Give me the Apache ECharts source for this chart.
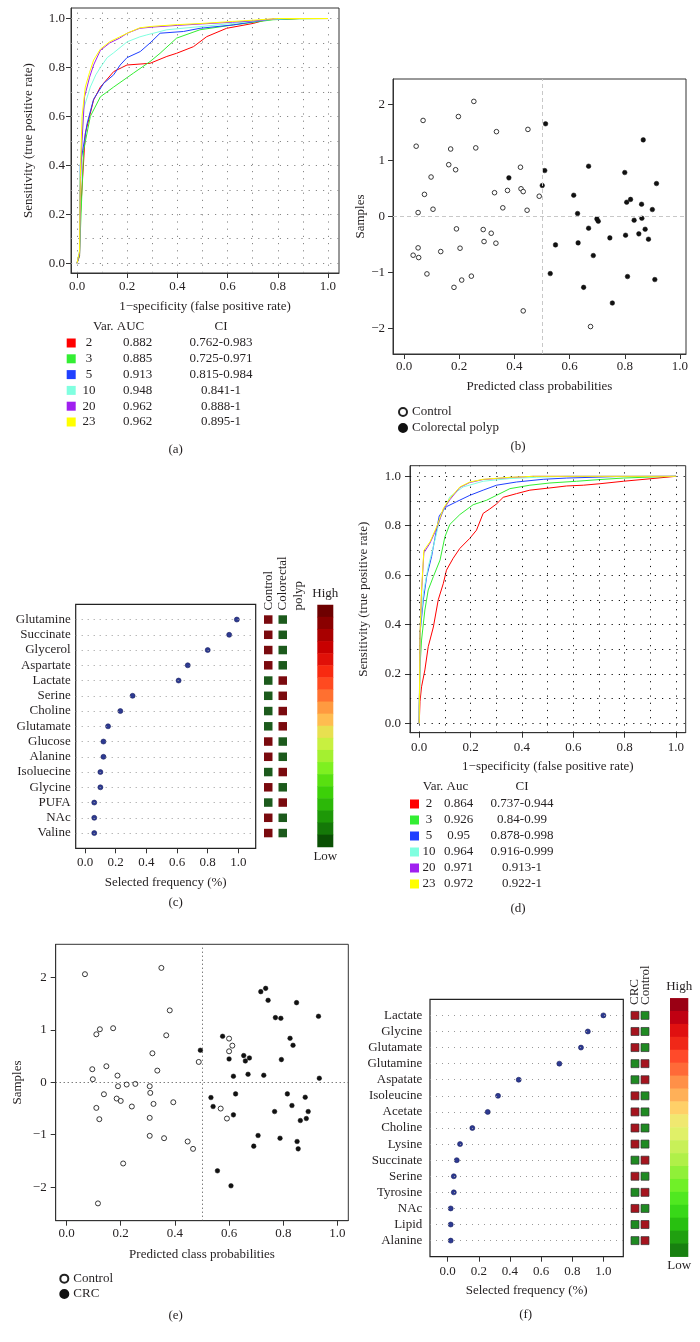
<!DOCTYPE html>
<html><head><meta charset="utf-8">
<script src="https://cdn.jsdelivr.net/npm/echarts@6/dist/echarts.min.js"></script>
<style>html,body{margin:0;padding:0;background:#fff}#c{width:700px;height:1342px}</style>
</head><body><div id="c"></div>
<script>
// ---------------- DATA ----------------
const rocVars = ['2', '3', '5', '10', '20', '23'];
const rocColors = ['#ff0000', '#33ee33', '#2040ff', '#80ffe0', '#a020f0', '#ffff00'];
const aAuc = ['0.882', '0.885', '0.913', '0.948', '0.962', '0.962'];
const aCI = ['0.762-0.983', '0.725-0.971', '0.815-0.984', '0.841-1', '0.888-1', '0.895-1'];
const dAuc = ['0.864', '0.926', '0.95', '0.964', '0.971', '0.972'];
const dCI = ['0.737-0.944', '0.84-0.99', '0.878-0.998', '0.916-0.999', '0.913-1', '0.922-1'];

// ROC curves panel (a)  [FPR, TPR]
const a2 = [[0,0],[0.01,0.03],[0.013,0.19],[0.033,0.53],[0.066,0.667],[0.093,0.72],[0.146,0.783],[0.199,0.81],[0.291,0.817],[0.358,0.845],[0.397,0.858],[0.464,0.885],[0.517,0.926],[0.596,0.96],[0.702,0.98],[0.755,0.995],[0.887,1],[1,1]];
const a3 = [[0,0],[0.01,0.03],[0.013,0.12],[0.026,0.46],[0.053,0.6],[0.093,0.68],[0.146,0.72],[0.225,0.777],[0.291,0.824],[0.331,0.858],[0.397,0.92],[0.49,0.954],[0.623,0.974],[0.781,0.995],[0.887,0.999],[1,1]];
const a5 = [[0,0],[0.01,0.04],[0.013,0.4],[0.04,0.57],[0.066,0.67],[0.106,0.735],[0.146,0.77],[0.172,0.81],[0.199,0.84],[0.252,0.865],[0.291,0.9],[0.331,0.94],[0.424,0.947],[0.49,0.96],[0.623,0.974],[0.755,0.995],[0.85,1],[1,1]];
const a10 = [[0,0],[0.01,0.05],[0.013,0.4],[0.026,0.63],[0.053,0.72],[0.075,0.77],[0.093,0.8],[0.12,0.84],[0.146,0.86],[0.2,0.905],[0.25,0.925],[0.278,0.933],[0.358,0.954],[0.49,0.967],[0.62,0.98],[0.755,0.995],[0.85,1],[1,1]];
const a20 = [[0,0],[0.01,0.04],[0.013,0.3],[0.02,0.5],[0.03,0.68],[0.05,0.76],[0.066,0.81],[0.093,0.87],[0.13,0.9],[0.17,0.92],[0.2,0.94],[0.25,0.96],[0.3,0.965],[0.4,0.972],[0.5,0.978],[0.62,0.985],[0.7,0.99],[0.8,1],[1,1]];
const a23 = [[0,0],[0.01,0.05],[0.013,0.35],[0.02,0.6],[0.033,0.72],[0.05,0.78],[0.066,0.83],[0.093,0.875],[0.13,0.905],[0.17,0.925],[0.2,0.94],[0.25,0.962],[0.3,0.968],[0.4,0.975],[0.5,0.98],[0.62,0.988],[0.7,0.993],[0.755,0.997],[0.8,1],[1,1]];

// ROC curves panel (d)
const d2 = [[0,0],[0.003,0.088],[0.009,0.148],[0.022,0.216],[0.035,0.31],[0.055,0.39],[0.074,0.5],[0.094,0.567],[0.106,0.62],[0.132,0.668],[0.158,0.708],[0.197,0.749],[0.223,0.782],[0.249,0.85],[0.275,0.868],[0.301,0.888],[0.327,0.915],[0.379,0.93],[0.431,0.944],[0.509,0.953],[0.574,0.961],[0.639,0.964],[0.704,0.97],[0.795,0.98],[0.899,0.99],[1,1]];
const d3 = [[0,0],[0,0.067],[0.003,0.23],[0.009,0.337],[0.022,0.459],[0.035,0.54],[0.055,0.594],[0.081,0.661],[0.1,0.755],[0.119,0.805],[0.158,0.845],[0.21,0.885],[0.262,0.903],[0.301,0.923],[0.353,0.95],[0.431,0.964],[0.509,0.973],[0.613,0.98],[0.704,0.987],[0.795,0.993],[0.899,0.997],[1,1]];
const d5 = [[0,0],[0,0.04],[0.003,0.364],[0.016,0.5],[0.029,0.594],[0.048,0.675],[0.061,0.749],[0.078,0.84],[0.106,0.877],[0.145,0.897],[0.197,0.923],[0.249,0.944],[0.301,0.964],[0.379,0.977],[0.483,0.988],[0.574,0.993],[0.769,0.999],[1,1]];
const d10 = [[0,0],[0.003,0.2],[0.005,0.4],[0.016,0.526],[0.035,0.634],[0.055,0.715],[0.081,0.83],[0.119,0.917],[0.171,0.957],[0.249,0.98],[0.353,0.991],[0.457,0.996],[0.574,1],[1,1]];
const d20 = [[0,0],[0.003,0.35],[0.009,0.53],[0.018,0.69],[0.042,0.73],[0.068,0.79],[0.094,0.865],[0.119,0.905],[0.158,0.955],[0.197,0.975],[0.249,0.987],[0.353,0.995],[0.444,1],[1,1]];
const d23 = [[0,0],[0.003,0.364],[0.009,0.54],[0.018,0.7],[0.042,0.735],[0.068,0.796],[0.094,0.87],[0.119,0.91],[0.158,0.957],[0.197,0.977],[0.249,0.988],[0.353,0.996],[0.444,1],[1,1]];

// Panel (b) predicted class probabilities vs samples
const bControl = [[0.253,2.05],[0.069,1.71],[0.197,1.78],[0.044,1.25],[0.169,1.20],[0.260,1.22],[0.335,1.51],[0.449,1.55],[0.098,0.70],[0.162,0.92],[0.187,0.83],[0.422,0.875],[0.074,0.39],[0.105,0.125],[0.051,0.065],[0.328,0.42],[0.375,0.46],[0.424,0.49],[0.432,0.44],[0.358,0.15],[0.446,0.107],[0.490,0.357],[0.190,-0.226],[0.287,-0.238],[0.316,-0.304],[0.290,-0.452],[0.333,-0.482],[0.203,-0.571],[0.051,-0.565],[0.033,-0.696],[0.053,-0.738],[0.133,-0.631],[0.083,-1.03],[0.181,-1.27],[0.209,-1.14],[0.244,-1.07],[0.432,-1.69],[0.676,-1.97]];
const bPolyp = [[0.513,1.65],[0.510,0.815],[0.501,0.548],[0.380,0.685],[0.669,0.893],[0.615,0.375],[0.629,0.048],[0.631,-0.476],[0.669,-0.214],[0.699,-0.048],[0.704,-0.089],[0.686,-0.702],[0.549,-0.512],[0.530,-1.024],[0.651,-1.27],[0.746,-0.387],[0.755,-1.55],[0.800,0.78],[0.807,0.25],[0.821,0.30],[0.803,-0.339],[0.834,-0.071],[0.810,-1.077],[0.867,1.363],[0.861,0.214],[0.862,-0.036],[0.851,-0.315],[0.874,-0.232],[0.886,-0.41],[0.900,0.119],[0.915,0.583],[0.909,-1.131]];

// Panel (e)
const eControl = [[0.068,2.06],[0.350,2.18],[0.381,1.37],[0.110,0.914],[0.123,1.01],[0.172,1.03],[0.368,0.895],[0.317,0.552],[0.095,0.248],[0.097,0.057],[0.147,0.305],[0.188,0.127],[0.190,-0.076],[0.222,-0.044],[0.254,-0.032],[0.335,0.222],[0.488,0.387],[0.138,-0.229],[0.110,-0.489],[0.121,-0.705],[0.185,-0.311],[0.200,-0.356],[0.241,-0.463],[0.307,-0.076],[0.309,-0.203],[0.321,-0.413],[0.394,-0.381],[0.307,-0.679],[0.307,-1.022],[0.360,-1.067],[0.447,-1.130],[0.467,-1.270],[0.209,-1.549],[0.600,0.832],[0.612,0.698],[0.600,0.590],[0.569,-0.502],[0.592,-0.692],[0.116,-2.31]];
const eCRC = [[0.494,0.610],[0.576,0.876],[0.600,0.444],[0.616,0.114],[0.624,-0.222],[0.533,-0.292],[0.541,-0.463],[0.616,-0.622],[0.557,-1.689],[0.607,-1.975],[0.654,0.508],[0.660,0.406],[0.675,0.463],[0.670,0.152],[0.717,1.727],[0.735,1.79],[0.744,1.562],[0.728,0.133],[0.707,-1.016],[0.691,-1.219],[0.771,1.232],[0.791,1.219],[0.793,0.432],[0.768,-0.559],[0.788,-1.067],[0.825,0.838],[0.836,0.705],[0.849,1.517],[0.815,-0.222],[0.832,-0.444],[0.863,-0.730],[0.851,-1.130],[0.855,-1.270],[0.881,-0.286],[0.885,-0.692],[0.892,-0.559],[0.930,1.257],[0.933,0.076]];

// Panel (c) selected frequency
const cCats = ['Glutamine', 'Succinate', 'Glycerol', 'Aspartate', 'Lactate', 'Serine', 'Choline', 'Glutamate', 'Glucose', 'Alanine', 'Isoluecine', 'Glycine', 'PUFA', 'NAc', 'Valine'];
const cVals = [0.99, 0.94, 0.80, 0.67, 0.61, 0.31, 0.23, 0.15, 0.12, 0.12, 0.10, 0.10, 0.06, 0.06, 0.06];
const cGroups = ['Control', 'Colorectal polyp'];
const cControlHigh = [1, 1, 1, 1, 0, 0, 0, 0, 1, 1, 0, 1, 0, 1, 1];
const cBar = ['#6e0000', '#8a0000', '#a80000', '#c80000', '#e01008', '#f82a10', '#ff4a20', '#ff7030', '#ff9a40', '#ffbc50', '#e8e050', '#c8f040', '#a4f030', '#7ef020', '#58e010', '#3cd008', '#2cb808', '#1e9808', '#147808', '#0a5004'];

// Panel (f) selected frequency
const fCats = ['Lactate', 'Glycine', 'Glutamate', 'Glutamine', 'Aspatate', 'Isoleucine', 'Acetate', 'Choline', 'Lysine', 'Succinate', 'Serine', 'Tyrosine', 'NAc', 'Lipid', 'Alanine'];
const fVals = [1.0, 0.90, 0.856, 0.717, 0.456, 0.323, 0.257, 0.158, 0.079, 0.058, 0.039, 0.039, 0.019, 0.019, 0.019];
const fGroups = ['CRC', 'Control'];
const fCRCHigh = [1, 1, 1, 0, 0, 1, 1, 1, 1, 0, 1, 0, 1, 0, 0];
const fBar = ['#9a0014', '#c00012', '#e01010', '#f02818', '#ff4a2a', '#ff6a38', '#ff9048', '#ffb058', '#ffd068', '#f0e870', '#e0f068', '#c8f058', '#b0f048', '#90f038', '#70f028', '#50e820', '#38d818', '#28c010', '#20a010', '#188010'];

const ticks01 = [0, 0.2, 0.4, 0.6, 0.8, 1.0];
const grid01 = [0, 0.1, 0.2, 0.3, 0.4, 0.5, 0.6, 0.7, 0.8, 0.9, 1.0];
const ticksSamples = [-2, -1, 0, 1, 2];
const panelLabels = ['(a)', '(b)', '(c)', '(d)', '(e)', '(f)'];

// ---------------- STYLE / HELPERS ----------------
const FONT = 'Liberation Serif';
const TXT = '#231f20';
const fmt1 = v => v.toFixed(1);
const fmtInt = v => (v < 0 ? '\u2212' + Math.abs(v) : String(v));

function numAxis(gridIndex, min, max, ticks, fmt, name, nameGap, margin, extra) {
  return Object.assign({
    type: 'value', gridIndex, min, max,
    name, nameLocation: 'middle', nameGap,
    nameTextStyle: { fontFamily: FONT, fontSize: 13, color: TXT },
    axisLine: { show: true, onZero: false, lineStyle: { color: '#333', width: 1 } },
    axisTick: { show: true, customValues: ticks, length: 5, lineStyle: { color: '#333' } },
    axisLabel: { customValues: ticks, formatter: fmt, margin, fontFamily: FONT, fontSize: 13, color: TXT, hideOverlap: false },
    splitLine: { show: false }
  }, extra || {});
}
function hiddenAxis(gridIndex, type, extra) {
  return Object.assign({ type, gridIndex, show: false, splitLine: { show: false } }, extra || {});
}
function gridLinesSeries(xi, yi, xs, ys, color, dash, width) {
  return {
    type: 'line', xAxisIndex: xi, yAxisIndex: yi, data: [], silent: true, z: 1,
    markLine: {
      silent: true, symbol: ['none', 'none'], label: { show: false }, animation: false,
      lineStyle: { color, type: dash, width: width || 1 },
      emphasis: { disabled: true },
      data: xs.map(v => ({ xAxis: v })).concat(ys.map(v => ({ yAxis: v })))
    }
  };
}
function rocSeries(xi, yi, curves) {
  return curves.map((c, i) => ({
    type: 'line', name: 'Var ' + rocVars[i], xAxisIndex: xi, yAxisIndex: yi, data: c,
    showSymbol: false, symbol: 'none', z: 3 + i, silent: true,
    lineStyle: { color: rocColors[i], width: 1 }
  }));
}
function dotSeries(xi, yi, vals) {
  return {
    type: 'scatter', xAxisIndex: xi, yAxisIndex: yi, z: 4, silent: true,
    data: vals.map((v, i) => [v, i]), symbolSize: 5,
    itemStyle: { color: '#2d3a92', borderColor: '#1a2060', borderWidth: 0.6, opacity: 1 }
  };
}
function squareSeries(xi, yi, highFirst, hi, lo, size, border) {
  const data = [];
  highFirst.forEach((h, i) => {
    data.push({ value: [0, i], itemStyle: { color: h ? hi : lo } });
    data.push({ value: [1, i], itemStyle: { color: h ? lo : hi } });
  });
  return {
    type: 'scatter', xAxisIndex: xi, yAxisIndex: yi, symbol: 'rect', symbolSize: size, silent: true,
    data, itemStyle: { borderColor: border || 'transparent', borderWidth: border ? 0.7 : 0, opacity: 1 }
  };
}
function colorbarSeries(xi, yi, cols, size) {
  return {
    type: 'scatter', xAxisIndex: xi, yAxisIndex: yi, symbol: 'rect', symbolSize: size, silent: true,
    data: cols.map((c, i) => ({ value: [0, i + 0.5], itemStyle: { color: c } })),
    itemStyle: { opacity: 1 }
  };
}
function txt(x, y, text, opt) {
  opt = opt || {};
  const align = opt.align || 'center';
  return {
    type: 'text', x, y, rotation: opt.rotation || 0, silent: true,
    style: { text, font: (opt.size || 13) + 'px "' + FONT + '"', fill: TXT,
      align, textAlign: align, verticalAlign: 'middle', textVerticalAlign: 'middle' }
  };
}

// ---------------- GRIDS ----------------
const boxStyle = { show: true, borderColor: '#333', borderWidth: 1, backgroundColor: 'transparent' };
const grids = [
  Object.assign({ left: 71, top: 8, width: 268, height: 265 }, boxStyle),            // 0 (a)
  Object.assign({ left: 393, top: 79, width: 293, height: 275 }, boxStyle),          // 1 (b)
  Object.assign({ left: 75.7, top: 604.3, width: 180, height: 244 }, boxStyle, { borderColor: '#222', borderWidth: 1.2 }), // 2 (c)
  { left: 261, top: 604.3, width: 29, height: 244, show: false },                    // 3 (c) squares
  { left: 317.3, top: 605, width: 16, height: 242, show: false },                    // 4 (c) colorbar
  Object.assign({ left: 410, top: 465.7, width: 275.7, height: 267 }, boxStyle),     // 5 (d)
  Object.assign({ left: 55.7, top: 944.3, width: 292.6, height: 276.4 }, boxStyle),  // 6 (e)
  Object.assign({ left: 430, top: 999.3, width: 193.3, height: 257.4 }, boxStyle, { borderColor: '#222', borderWidth: 1.2 }), // 7 (f)
  { left: 630, top: 999.3, width: 20, height: 257.4, show: false },                  // 8 (f) squares
  { left: 670, top: 998.3, width: 18.3, height: 258.4, show: false }                 // 9 (f) colorbar
];

const catFmt = cats => v => cats[Math.round(v)] || '';
const idx15 = cCats.map((_, i) => i);
const noLine = { show: false, onZero: false };

const xAxes = [
  numAxis(0, -0.024, 1.044, ticks01, fmt1, '1\u2212specificity (false positive rate)', 27, 7),
  numAxis(1, -0.04, 1.022, ticks01, fmt1, 'Predicted class probabilities', 26, 6),
  numAxis(2, -0.061, 1.113, ticks01, fmt1, 'Selected frequency (%)', 28, 8, { axisLine: noLine }),
  hiddenAxis(3, 'value', { min: -0.5, max: 1.5 }),
  hiddenAxis(4, 'value', { min: -0.5, max: 0.5 }),
  numAxis(5, -0.036, 1.038, ticks01, fmt1, '1\u2212specificity (false positive rate)', 27, 8),
  numAxis(6, -0.04, 1.04, ticks01, fmt1, 'Predicted class probabilities', 27, 6),
  numAxis(7, -0.114, 1.128, ticks01, fmt1, 'Selected frequency (%)', 27, 8, { axisLine: noLine }),
  hiddenAxis(8, 'value', { min: -0.5, max: 1.5 }),
  hiddenAxis(9, 'value', { min: -0.5, max: 0.5 })
];
const yAxes = [
  numAxis(0, -0.04, 1.043, ticks01, fmt1, 'Sensitivity (true positive rate)', 36, 6),
  numAxis(1, -2.46, 2.45, ticksSamples, fmtInt, 'Samples', 23, 8),
  numAxis(2, -1, 15, idx15, catFmt(cCats), '', 0, 5, { inverse: true, axisLine: noLine, axisTick: { show: false } }),
  hiddenAxis(3, 'value', { min: -1, max: 15, inverse: true }),
  hiddenAxis(4, 'value', { min: 0, max: 20, inverse: true }),
  numAxis(5, -0.038, 1.043, ticks01, fmt1, 'Sensitivity (true positive rate)', 40, 9),
  numAxis(6, -2.64, 2.63, ticksSamples, fmtInt, 'Samples', 32, 9),
  numAxis(7, -1, 15, idx15, catFmt(fCats), '', 0, 7.7, { inverse: true, axisLine: noLine, axisTick: { show: false } }),
  hiddenAxis(8, 'value', { min: -1, max: 15, inverse: true }),
  hiddenAxis(9, 'value', { min: 0, max: 20, inverse: true })
];

// ---------------- SERIES ----------------
const openStyle = { color: '#ffffff', borderColor: '#222', borderWidth: 0.9, opacity: 1 };
const fillStyle = { color: '#111', borderColor: '#111', borderWidth: 0.5, opacity: 1 };
const series = [
  gridLinesSeries(0, 0, grid01, grid01, '#888', [1.2, 6]),
  ...rocSeries(0, 0, [a2, a3, a5, a10, a20, a23]),
  gridLinesSeries(1, 1, [0.5], [0], '#c8c8c8', [4, 3]),
  { type: 'scatter', name: 'Control', xAxisIndex: 1, yAxisIndex: 1, data: bControl, symbolSize: 4.6, itemStyle: openStyle, z: 4, silent: true },
  { type: 'scatter', name: 'Colorectal polyp', xAxisIndex: 1, yAxisIndex: 1, data: bPolyp, symbolSize: 4.6, itemStyle: fillStyle, z: 4, silent: true },
  gridLinesSeries(2, 2, [], idx15, '#999', [1, 5]),
  dotSeries(2, 2, cVals),
  squareSeries(3, 3, cControlHigh, '#7a0a0e', '#1c5a1c', 8.5, null),
  colorbarSeries(4, 4, cBar, [16, 12.6]),
  gridLinesSeries(5, 5, grid01, grid01, '#111', [1.2, 6]),
  ...rocSeries(5, 5, [d2, d3, d5, d10, d20, d23]),
  gridLinesSeries(6, 6, [0.5], [0], '#444', [1, 3]),
  { type: 'scatter', name: 'Control', xAxisIndex: 6, yAxisIndex: 6, data: eControl, symbolSize: 5, itemStyle: openStyle, z: 4, silent: true },
  { type: 'scatter', name: 'CRC', xAxisIndex: 6, yAxisIndex: 6, data: eCRC, symbolSize: 4.6, itemStyle: fillStyle, z: 4, silent: true },
  gridLinesSeries(7, 7, [], idx15, '#999', [1, 5]),
  dotSeries(7, 7, fVals),
  squareSeries(8, 8, fCRCHigh, '#a5141e', '#1f8a22', 8, '#333'),
  colorbarSeries(9, 9, fBar, [18.3, 13.4])
];

// ---------------- GRAPHIC TEXT / TABLE LEGENDS ----------------
const graphics = [];
function rocTable(x0, sqX, varX, aucX, ciX, headY, rowY0, rowStep, head, aucs, cis) {
  graphics.push(txt(x0, headY, head, { align: 'left' }));
  graphics.push(txt(ciX, headY, 'CI'));
  rocVars.forEach((v, i) => {
    const y = rowY0 + i * rowStep;
    graphics.push({ type: 'rect', silent: true, shape: { x: sqX, y: y - 4.5, width: 9, height: 9 }, style: { fill: rocColors[i] } });
    graphics.push(txt(varX, y, v));
    graphics.push(txt(aucX, y, aucs[i]));
    graphics.push(txt(ciX, y, cis[i]));
  });
}
rocTable(93, 66.7, 89, 137.5, 221, 327, 343, 15.8, 'Var. AUC', aAuc, aCI);
rocTable(422.7, 410, 429, 458.5, 522, 786.7, 804, 16, 'Var. Auc', dAuc, dCI);

const R90 = Math.PI / 2;
graphics.push(txt(268.4, 610.5, cGroups[0], { align: 'left', rotation: R90 }));
graphics.push(txt(282.6, 610.5, 'Colorectal', { align: 'left', rotation: R90 }));
graphics.push(txt(299, 610.5, 'polyp', { align: 'left', rotation: R90 }));
graphics.push(txt(634.7, 1005, fGroups[0], { align: 'left', rotation: R90 }));
graphics.push(txt(646, 1005, fGroups[1], { align: 'left', rotation: R90 }));
graphics.push(txt(325.3, 594, 'High'));
graphics.push(txt(325.3, 857, 'Low'));
graphics.push(txt(679.2, 987, 'High'));
graphics.push(txt(679.2, 1266, 'Low'));

const labelPos = [[175.7, 450], [518, 447], [175.7, 903], [518, 909], [175.7, 1316], [525.7, 1315]];
panelLabels.forEach((l, i) => graphics.push(txt(labelPos[i][0], labelPos[i][1], l)));

// ---------------- OPTION ----------------
const legendBase = {
  orient: 'vertical', icon: 'circle', itemWidth: 8, itemHeight: 8, itemGap: 0, selectedMode: false,
  textStyle: { fontFamily: FONT, fontSize: 13, color: TXT, lineHeight: 16 }
};
const option = {
  animation: false,
  backgroundColor: '#ffffff',
  textStyle: { fontFamily: FONT },
  grid: grids,
  xAxis: xAxes,
  yAxis: yAxes,
  legend: [
    Object.assign({ left: 393, top: 399, data: ['Control', 'Colorectal polyp'] }, legendBase),
    Object.assign({ left: 54.3, top: 1266, data: ['Control', 'CRC'] }, legendBase, { textStyle: Object.assign({}, legendBase.textStyle, { lineHeight: 15.3 }) })
  ],
  series,
  graphic: { elements: graphics }
};
const chart = echarts.init(document.getElementById('c'), null, { renderer: 'canvas', width: 700, height: 1342 });
chart.setOption(option);
</script></body></html>
